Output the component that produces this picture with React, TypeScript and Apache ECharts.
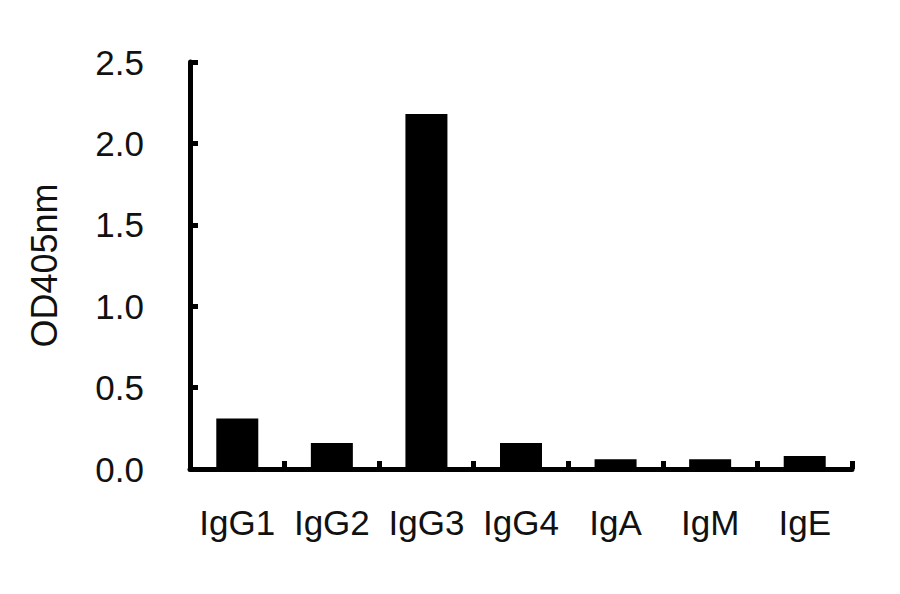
import React, { useEffect, useRef } from 'react'
import * as echarts from 'echarts'

const categories = ['IgG1', 'IgG2', 'IgG3', 'IgG4', 'IgA', 'IgM', 'IgE']
const odValues = [0.31, 0.16, 2.18, 0.16, 0.06, 0.06, 0.08]
const yAxisName = 'OD405nm'

const FONT = '"Liberation Sans", Arial, sans-serif'

const App: React.FC = () => {
  const chartRef = useRef<HTMLDivElement>(null)

  useEffect(() => {
    if (!chartRef.current) return
    const chart = echarts.init(chartRef.current, undefined, { renderer: 'svg' })

    const axisLine = { show: true, lineStyle: { color: '#000', width: 5 } }
    const axisTick = { show: true, inside: true, length: 8, lineStyle: { color: '#000', width: 5 } }

    chart.setOption({
      animation: false,
      backgroundColor: '#fff',
      textStyle: { fontFamily: FONT },
      grid: { left: 190, right: 48, top: 62, bottom: 125 },
      xAxis: {
        type: 'category',
        data: categories,
        axisLine,
        axisTick: { ...axisTick, alignWithLabel: false },
        axisLabel: { color: '#111', fontSize: 35, fontFamily: FONT, margin: 36, interval: 0 },
        splitLine: { show: false },
      },
      yAxis: {
        type: 'value',
        min: 0,
        max: 2.5,
        interval: 0.5,
        name: yAxisName,
        nameLocation: 'middle',
        nameGap: 128,
        nameTextStyle: { color: '#111', fontSize: 36, fontFamily: FONT },
        axisLine,
        axisTick,
        axisLabel: {
          color: '#111',
          fontSize: 35,
          fontFamily: FONT,
          margin: 46,
          formatter: (v: number) => v.toFixed(1),
        },
        splitLine: { show: false },
      },
      series: [
        {
          type: 'bar',
          data: odValues,
          barWidth: 42,
          itemStyle: { color: '#000' },
        },
      ],
    })

    return () => {
      chart.dispose()
    }
  }, [])

  return <div ref={chartRef} style={{ width: 900, height: 594, margin: -8 }} />
}

export default App
